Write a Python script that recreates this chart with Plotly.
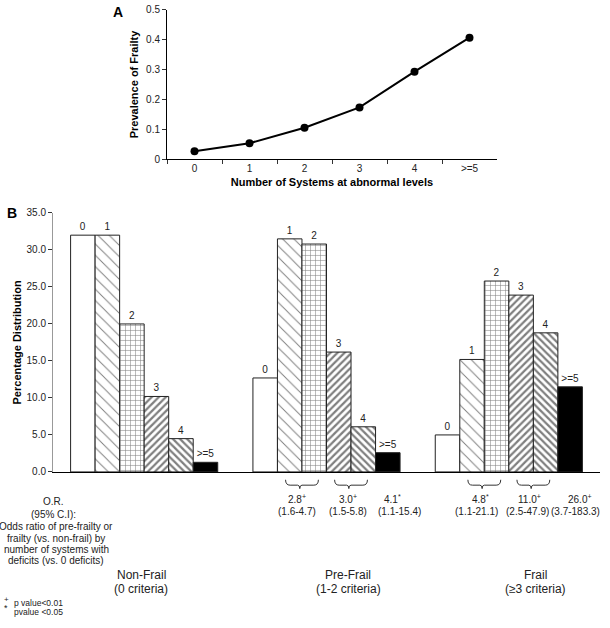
import plotly.graph_objects as go

# ---------------- Data ----------------
# Panel A
systems_labels = ["0", "1", "2", "3", "4", ">=5"]
prevalence = [0.026, 0.053, 0.105, 0.173, 0.293, 0.407]

# Panel B
group_names = ["Non-Frail", "Pre-Frail", "Frail"]
group_criteria = ["(0 criteria)", "(1-2 criteria)", "(≥3 criteria)"]
bar_labels = ["0", "1", "2", "3", "4", ">=5"]
non_frail = [32.0, 32.0, 20.0, 10.2, 4.5, 1.3]
pre_frail = [12.7, 31.5, 30.8, 16.2, 6.1, 2.6]
frail = [5.0, 15.2, 25.8, 23.9, 18.8, 11.5]

# Odds ratios (vs. 0 deficits)
or_group = [1, 1, 1, 2, 2, 2]
or_first = [1, 3, 5, 1, 3, 5]
or_last = [2, 4, 5, 2, 4, 5]
or_value = ["2.8", "3.0", "4.1", "4.8", "11.0", "26.0"]
or_ci = ["(1.6-4.7)", "(1.5-5.8)", "(1.1-15.4)", "(1.1-21.1)", "(2.5-47.9)", "(3.7-183.3)"]
or_mark = ["+", "+", "*", "*", "+", "+"]

# ---------------- Styles ----------------
W, H = 610, 628
FONT = "Arial, Liberation Sans, sans-serif"
patterns = [
    None,
    dict(shape="\\", size=8, solidity=0.12),
    dict(shape="+", size=5, solidity=0.2),
    dict(shape="/", size=5, solidity=0.45),
    dict(shape="\\", size=5, solidity=0.45),
    None,
]
fills = ["white", "white", "white", "white", "white", "black"]
# small horizontal nudges (px) of the OR texts: value line, CI line
or_shift_v = [-5, -3, 5, -4, -4, 10]
or_shift_ci = [-5, -3, 12, -8, -6, 5]
group_label_x = [141, 348, 535]


def px(x):
    return x / W


def py(y):
    return 1 - y / H


fig = go.Figure()

# Panel A
fig.add_trace(go.Scatter(
    x=systems_labels, y=prevalence, mode="lines+markers",
    line=dict(color="black", width=2),
    marker=dict(color="black", size=8),
    xaxis="x", yaxis="y", showlegend=False, cliponaxis=False,
))

# Panel B
series = [non_frail, pre_frail, frail]
n_groups = len(group_names)
for i, lab in enumerate(bar_labels):
    ys = [s[i] for s in series]
    marker = dict(color=fills[i], line=dict(color="#222", width=1))
    if patterns[i] is not None:
        p = dict(patterns[i])
        p.update(fgcolor="black", bgcolor="white")
        marker["pattern"] = p
    fig.add_trace(go.Bar(
        x=list(range(n_groups)), y=ys, marker=marker,
        text=[lab] * n_groups, textposition="outside",
        textfont=dict(size=10, color="#222", family=FONT),
        cliponaxis=False, xaxis="x2", yaxis="y2", showlegend=False,
    ))

BARGAP = 0.193
bw = (1 - BARGAP) / len(bar_labels)


def bar_left(g, i):
    return g - (1 - BARGAP) / 2 + i * bw


axis_common = dict(showline=True, linecolor="black", linewidth=1, showgrid=False,
                   zeroline=False, ticks="outside", ticklen=4, tickcolor="#333",
                   tickfont=dict(size=10, color="#222", family=FONT))
title_font = dict(size=11, color="black", family=FONT)

fig.update_layout(
    width=W, height=H,
    margin=dict(l=0, r=0, t=0, b=0),
    paper_bgcolor="white", plot_bgcolor="white",
    barmode="group", bargap=BARGAP, bargroupgap=0,
    font=dict(family=FONT, color="#222"),
    xaxis=dict(domain=[px(167), px(497)], anchor="y", type="category",
               range=[-0.5, 5.5], tickson="boundaries",
               title=dict(text="<b>Number of Systems at abnormal levels</b>",
                          font=title_font, standoff=5),
               **axis_common),
    yaxis=dict(domain=[py(156), py(4)], anchor="x", range=[0, 0.5], dtick=0.1,
               title=dict(text="<b>Prevalence of Frailty</b>",
                          font=title_font, standoff=5),
               **axis_common),
    xaxis2=dict(domain=[px(53), px(600)], anchor="y2", range=[-0.5, 2.5],
                showticklabels=False, showline=True, linecolor="black",
                showgrid=False, zeroline=False, ticks=""),
    yaxis2=dict(domain=[py(475), py(211)], anchor="x2", range=[0, 35], dtick=5,
                tickformat=".1f",
                title=dict(text="<b>Percentage Distribution</b>",
                           font=title_font, standoff=2),
                **{**axis_common, "linecolor": "#999"}),
)


def note(text, x, y, size, xref="paper", xanchor="center", xshift=0, color="#222"):
    return dict(text=text, x=x, y=y, xref=xref, yref="paper", xanchor=xanchor,
                yanchor="middle", align="center", showarrow=False, xshift=xshift,
                font=dict(size=size, color=color, family=FONT))


ann = []
ann.append(note("<b>A</b>", px(118), py(6), 14, color="black"))
ann.append(note("<b>B</b>", px(12), py(211), 14, color="black"))

# OR labels and braces
shapes = []
for k, (g, a, b, v, ci, m) in enumerate(zip(or_group, or_first, or_last, or_value, or_ci, or_mark)):
    if a == b:
        xc = bar_left(g, a) + bw / 2
    else:
        xc = bar_left(g, a + 1)
        half = 0.09
        x0, x1 = xc - half, xc + half
        xc_b = xc - 0.012
        ytop, ymid, ytip = py(483), py(488.5), py(492)
        path = (f"M {x0},{ytop} Q {x0},{ymid} {x0 + 0.025},{ymid} "
                f"L {xc_b - 0.012},{ymid} Q {xc_b},{ymid} {xc_b},{ytip} "
                f"Q {xc_b},{ymid} {xc_b + 0.012},{ymid} "
                f"L {x1 - 0.025},{ymid} Q {x1},{ymid} {x1},{ytop}")
        shapes.append(dict(type="path", path=path, xref="x2", yref="paper",
                           line=dict(color="#333", width=1)))
    ann.append(note(f"{v}<sup>{m}</sup>", xc, py(503), 10, xref="x2", xshift=or_shift_v[k]))
    ann.append(note(ci, xc, py(515), 10, xref="x2", xshift=or_shift_ci[k]))

# Left block
left_lines = ["O.R.", "(95% C.I):", "Odds ratio of pre-frailty or",
              "frailty (vs. non-frail) by", "number of systems with",
              "deficits (vs. 0 deficits)"]
left_y = [505, 518, 531, 542.5, 554, 565]
left_x = [53, 53, 56, 56, 56, 56]
for t, yy, xx in zip(left_lines, left_y, left_x):
    ann.append(note(t, px(xx), py(yy), 10))

# Group labels
for g in range(n_groups):
    ann.append(note(group_names[g], px(group_label_x[g]), py(580), 12))
    ann.append(note(group_criteria[g], px(group_label_x[g]), py(594), 12))

# Footnotes
ann.append(note("+", px(6), py(605), 8))
ann.append(note("*", px(6), py(614), 9))
ann.append(note("p value<0.01", px(12), py(609), 8.5, xanchor="left"))
ann.append(note("pvalue <0.05", px(12), py(618), 8.5, xanchor="left"))

fig.update_layout(annotations=ann, shapes=shapes)

fig.write_html("out.html", config={"displayModeBar": False},
               post_script="document.body.style.margin='0';document.body.style.overflow='hidden';")
